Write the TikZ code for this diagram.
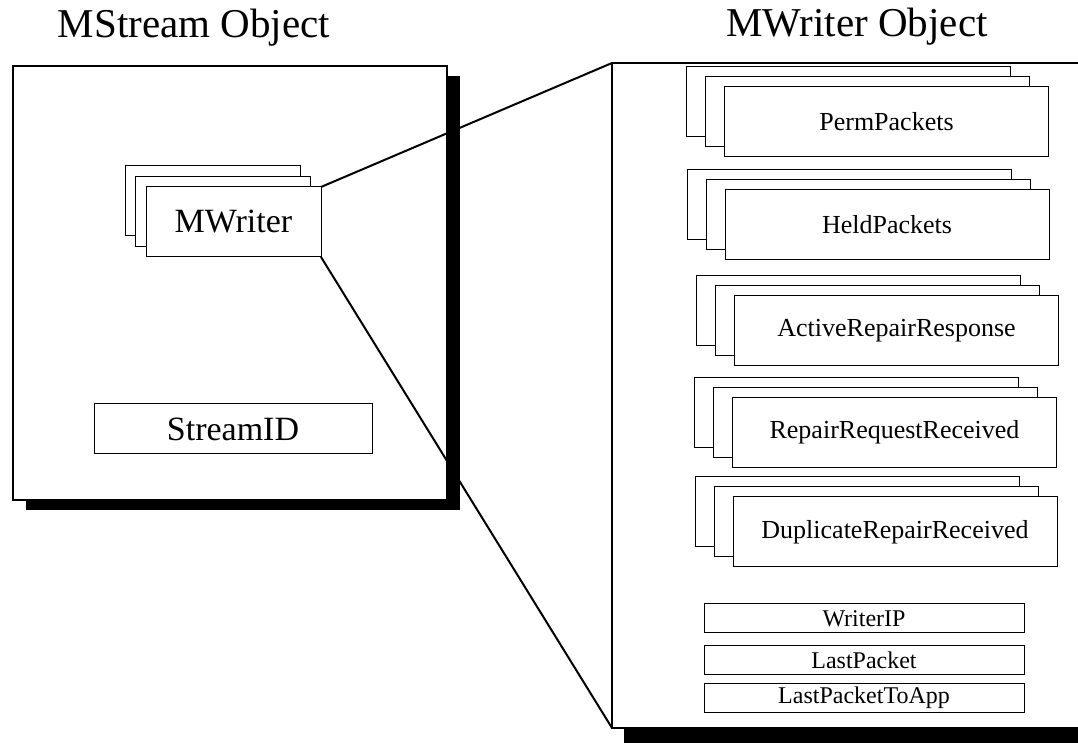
\documentclass[tikz,border=0pt]{standalone}
\usepackage{fontspec}
\setmainfont{Liberation Serif}
\usepackage{tikz}
\usetikzlibrary{shadows}
\usetikzlibrary{positioning}

\begin{document}
\begin{tikzpicture}[
  x=0.5pt, y=-0.5pt,
  every node/.style={inner sep=0pt, outer sep=0pt},
  objbox/.style={draw, fill=white, line width=0.6pt},
  card/.style={draw, fill=white, line width=0.5pt, minimum width=162pt, minimum height=35pt,
    font=\fontsize{13}{15}\selectfont},
  stackcard/.style={card,
    copy shadow={shadow xshift=-19pt, shadow yshift=10pt, draw=black, fill=white},
    copy shadow={shadow xshift=-9.5pt, shadow yshift=5pt, draw=black, fill=white}},
  field/.style={draw, fill=white, line width=0.5pt, minimum width=160pt, minimum height=14.5pt,
    font=\fontsize{12}{14}\selectfont},
  title/.style={font=\fontsize{20.5}{24}\selectfont, anchor=base},
  conn/.style={line width=1pt},
]
\clip (0,0) rectangle (1078,743);

% Titles
\node[title] (mstitle) at (194,38) {MStream Object};
\node[title] (mwtitle) at (857,37) {MWriter Object};

% MStream object
\node[objbox, minimum width=217pt, minimum height=217pt,
  drop shadow={shadow xshift=6.5pt, shadow yshift=-5pt, fill=black, opacity=1}]
  (msobj) at (230,283) {};
\node[card, minimum width=87.5pt, font=\fontsize{17}{20}\selectfont,
  copy shadow={shadow xshift=-10.5pt, shadow yshift=10.5pt, draw=black, fill=white},
  copy shadow={shadow xshift=-5.25pt, shadow yshift=5.25pt, draw=black, fill=white}]
  (mw) at (233.5,222) {MWriter};
\node[card, minimum width=139pt, minimum height=25pt, font=\fontsize{17}{20}\selectfont]
  (sid) at (233,429) {StreamID};

% MWriter object
\node[objbox, line width=0.8pt, minimum width=241.5pt, minimum height=332.5pt,
  drop shadow={shadow xshift=6pt, shadow yshift=-8pt, fill=black, opacity=1}]
  (mwobj) at (853.5,395.5) {};

% Lists
\node[stackcard] (perm)   at (886.5,122) {PermPackets};
\node[stackcard] (held)   at (887,225)   {HeldPackets};
\node[stackcard] (active) at (896.5,330.5) {ActiveRepairResponse};
\node[stackcard] (reqrx)  at (894.5,432.5) {RepairRequestReceived};
\node[stackcard] (duprx)  at (895,532)   {DuplicateRepairReceived};

% Fields
\node[field] (wip)   at (864,618.5) {WriterIP};
\node[field] (lastp) at (864,660)   {LastPacket};
\node[field] (lastapp) at (864,697.5) {LastPacketToApp};

% Zoom lines
\draw[conn] (mw.north east) -- (mwobj.north west);
\draw[conn] (mw.south east) -- (mwobj.south west);

\end{tikzpicture}
\end{document}
